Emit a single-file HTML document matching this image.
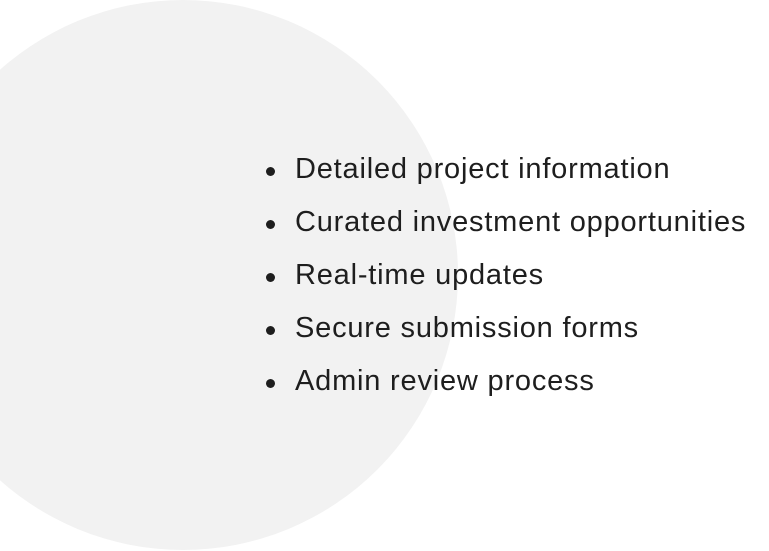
<!DOCTYPE html>
<html>
<head>
<meta charset="utf-8">
<style>
  html,body{margin:0;padding:0;background:#fff;}
  body{width:769px;height:551px;position:relative;overflow:hidden;font-family:"Liberation Sans",sans-serif;}
  .circle{position:absolute;left:-92px;top:0px;width:550px;height:550px;border-radius:50%;background:#f2f2f2;}
  .item{position:absolute;left:295px;font-size:29px;letter-spacing:0.8px;color:#1e1e1e;line-height:32px;white-space:nowrap;}
  .dot{position:absolute;left:266px;width:9px;height:9px;border-radius:50%;background:#1e1e1e;}
</style>
</head>
<body>
<div class="circle"></div>
<div class="dot" style="top:167px"></div><div class="item" style="top:153px">Detailed project information</div>
<div class="dot" style="top:220px"></div><div class="item" style="top:206px">Curated investment opportunities</div>
<div class="dot" style="top:273px"></div><div class="item" style="top:259px">Real-time updates</div>
<div class="dot" style="top:326px"></div><div class="item" style="top:312px">Secure submission forms</div>
<div class="dot" style="top:379px"></div><div class="item" style="top:365px">Admin review process</div>
</body>
</html>
